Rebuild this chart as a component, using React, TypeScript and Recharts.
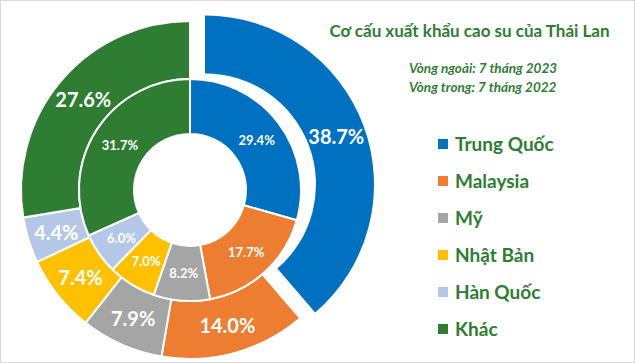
import React from "react"
import { Cell, Legend, Pie, PieChart } from "recharts"

// categories + values (outer ring: 7/2023, inner ring: 7/2022)
const categories = ["Trung Quốc", "Malaysia", "Mỹ", "Nhật Bản", "Hàn Quốc", "Khác"]
const outer2023 = [38.7, 14.0, 7.9, 7.4, 4.4, 27.6]
const inner2022 = [29.4, 17.7, 8.2, 7.0, 6.0, 31.7]
const colors = ["#0070C0", "#ED7D31", "#A5A5A5", "#FFC000", "#B4C7E7", "#2E7D32"]

const title = "Cơ cấu xuất khẩu cao su của Thái Lan"
const subOuter = "Vòng ngoài: 7 tháng 2023"
const subInner = "Vòng trong: 7 tháng 2022"

const outerData = categories.map((name, i) => ({ name, value: outer2023[i] }))
const innerData = categories.map((name, i) => ({ name, value: inner2022[i] }))

const textGreen = "#2E7D32"
const font = "Lato, 'Open Sans', sans-serif"

const CX = 184
const CY = 184
const EXPLODE = 16

// offset for the exploded first slice (Trung Quốc)
const total = outer2023.reduce((a, b) => a + b, 0)
const midFrac = outer2023[0] / total / 2
const offX = EXPLODE * Math.sin(2 * Math.PI * midFrac)
const offY = -EXPLODE * Math.cos(2 * Math.PI * midFrac)

const RAD = Math.PI / 180

// eslint-disable-next-line @typescript-eslint/no-explicit-any
const makeLabel = (size: number, show: (i: number) => boolean) => (props: any) => {
	const { cx, cy, midAngle, innerRadius, outerRadius, value, index } = props
	if (!show(index)) return null
	const r = (innerRadius + outerRadius) / 2
	const x = cx + r * Math.cos(-midAngle * RAD)
	const y = cy + r * Math.sin(-midAngle * RAD)
	return (
		<text
			x={x}
			y={y}
			fill="#fff"
			textAnchor="middle"
			dominantBaseline="central"
			fontFamily={font}
			fontWeight="bold"
			fontSize={size}
		>
			{value.toFixed(1)}%
		</text>
	)
}

const LegendList = () => (
	<div style={{ fontFamily: font }}>
		{categories.map((c, i) => (
			<div key={c} style={{ display: "flex", alignItems: "center", height: 37 }}>
				<div style={{ width: 10, height: 10, backgroundColor: colors[i], marginRight: 7 }} />
				<span style={{ color: textGreen, fontWeight: "bold", fontSize: 19 }}>{c}</span>
			</div>
		))}
	</div>
)

const App: React.FC = () => {
	return (
		<div
			style={{
				position: "fixed",
				left: 0,
				top: 0,
				width: 633,
				height: 361,
				border: "1px solid #d9d9d9",
				background: "#fff",
				overflow: "hidden"
			}}
		>
			<PieChart width={633} height={361}>
				{/* outer ring, everything except the exploded slice */}
				<Pie
					data={outerData}
					dataKey="value"
					cx={CX}
					cy={CY}
					startAngle={90}
					endAngle={-270}
					innerRadius={111}
					outerRadius={169}
					stroke="#fff"
					strokeWidth={2}
					labelLine={false}
					label={makeLabel(20, (i) => i !== 0)}
					isAnimationActive={false}
				>
					{outerData.map((e, i) => (
						<Cell
							key={`o-${i}`}
							fill={i === 0 ? "transparent" : colors[i]}
							stroke={i === 0 ? "none" : "#fff"}
						/>
					))}
				</Pie>
				{/* exploded slice */}
				<Pie
					data={outerData}
					dataKey="value"
					cx={CX + offX}
					cy={CY + offY}
					startAngle={90}
					endAngle={-270}
					innerRadius={111}
					outerRadius={169}
					stroke="none"
					labelLine={false}
					label={makeLabel(20, (i) => i === 0)}
					isAnimationActive={false}
				>
					{outerData.map((e, i) => (
						<Cell key={`x-${i}`} fill={i === 0 ? colors[0] : "transparent"} />
					))}
				</Pie>
				{/* inner ring */}
				<Pie
					data={innerData}
					dataKey="value"
					cx={CX}
					cy={CY}
					startAngle={90}
					endAngle={-270}
					innerRadius={56}
					outerRadius={111}
					stroke="#fff"
					strokeWidth={2}
					labelLine={false}
					label={makeLabel(13, () => true)}
					isAnimationActive={false}
				>
					{innerData.map((e, i) => (
						<Cell key={`i-${i}`} fill={colors[i]} />
					))}
				</Pie>
				<Legend
					layout="vertical"
					content={<LegendList />}
					wrapperStyle={{ left: 437, top: 124, width: 190 }}
				/>
			</PieChart>
			<div
				style={{
					position: "absolute",
					left: 304,
					top: 19,
					width: 329,
					textAlign: "center",
					fontFamily: font,
					fontWeight: "bold",
					fontSize: 17,
					color: textGreen
				}}
			>
				{title}
			</div>
			<div
				style={{
					position: "absolute",
					left: 408,
					top: 58,
					fontFamily: font,
					fontStyle: "italic",
					fontWeight: "bold",
					fontSize: 13.5,
					lineHeight: "19px",
					color: textGreen
				}}
			>
				<div>{subOuter}</div>
				<div>{subInner}</div>
			</div>
		</div>
	)
}

export default App
